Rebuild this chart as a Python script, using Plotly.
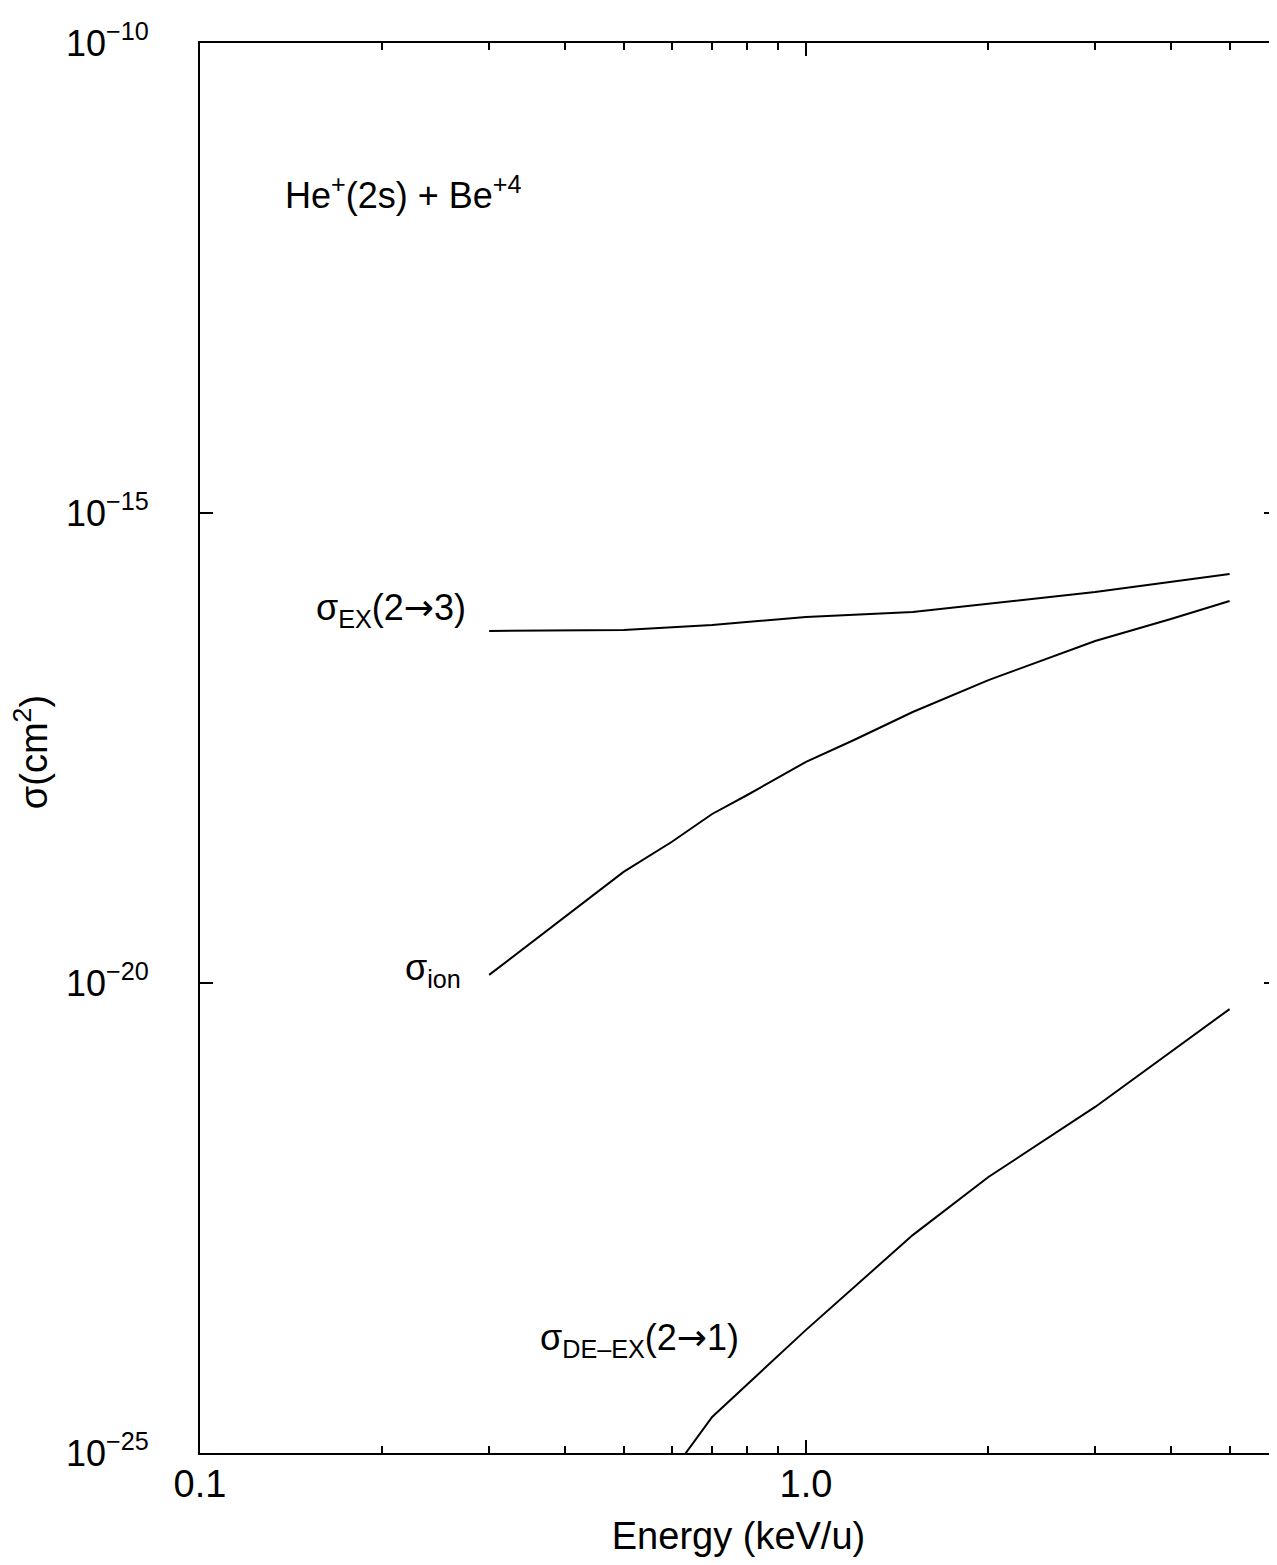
import plotly.graph_objects as go

# Energy (keV/u)
energy_ex = [0.3, 0.5, 0.7, 1.0, 1.5, 2.0, 3.0, 5.0]
sigma_ex = [5.56e-17, 5.69e-17, 6.45e-17, 7.83e-17, 8.85e-17, 1.08e-16, 1.44e-16, 2.24e-16]

energy_ion = [0.3, 0.4, 0.5, 0.6, 0.7, 0.8, 1.0, 1.2, 1.5, 2.0, 3.0, 4.0, 5.0]
sigma_ion = [1.22e-20, 5.04e-20, 1.52e-19, 3.16e-19, 6.28e-19, 1.0e-18, 2.25e-18,
             3.85e-18, 7.64e-18, 1.67e-17, 4.35e-17, 7.45e-17, 1.16e-16]

energy_deex = [0.6, 0.7, 1.0, 1.5, 2.0, 3.0, 5.0]
sigma_deex = [6.2e-26, 2.42e-25, 2.04e-24, 2.08e-23, 8.63e-23, 4.8e-22, 5.28e-21]

x_tickvals = [0.1, 1.0]
x_ticktext = ["0.1", "1.0"]
x_minor = [0.2, 0.3, 0.4, 0.5, 0.6, 0.7, 0.8, 0.9, 2, 3, 4, 5]
y_tickvals = [1e-25, 1e-20, 1e-15, 1e-10]
y_ticktext = ["10<sup>\u221225</sup>", "10<sup>\u221220</sup>",
              "10<sup>\u221215</sup>", "10<sup>\u221210</sup>"]

FONT = "Liberation Sans, Arial, Helvetica, sans-serif"
ARROW = "<span style=\"font-family:'DejaVu Sans'\">\u2192</span>"
line = dict(color="black", width=2)

fig = go.Figure()
for xs, ys in [(energy_ex, sigma_ex), (energy_ion, sigma_ion), (energy_deex, sigma_deex)]:
    fig.add_trace(go.Scatter(x=xs, y=ys, mode="lines", line=line,
                             showlegend=False, hoverinfo="skip"))
fig.add_trace(go.Scatter(x=[1.0], y=[1e-15], yaxis="y2", mode="markers",
                         marker=dict(opacity=0), showlegend=False, hoverinfo="skip"))

fig.update_layout(
    width=1269, height=1549,
    margin=dict(l=192, r=0, t=35, b=104),
    paper_bgcolor="white", plot_bgcolor="white",
    font=dict(family=FONT, size=38, color="black"),
    xaxis=dict(
        type="log", range=[-1, 0.7772],
        tickmode="array", tickvals=x_tickvals, ticktext=x_ticktext,
        ticks="inside", ticklen=13, tickwidth=2, tickcolor="black",
        showline=True, linecolor="black", linewidth=2, mirror="ticks",
        showgrid=False, zeroline=False, ticklabelstandoff=-4,
        minor=dict(tickmode="array", tickvals=x_minor, ticks="inside",
                   ticklen=7, tickwidth=2, tickcolor="black", showgrid=False),
        title=dict(text="Energy (keV/u)", standoff=22, font=dict(size=38)),
        tickfont=dict(size=38),
    ),
    yaxis=dict(
        type="log", range=[-25, -10],
        tickmode="array", tickvals=y_tickvals, ticktext=y_ticktext,
        ticks="inside", ticklen=13, tickwidth=2, tickcolor="black",
        showline=True, linecolor="black", linewidth=2,
        showgrid=False, zeroline=False, ticklabelstandoff=42,
        tickfont=dict(size=36),
    ),
    yaxis2=dict(
        type="log", range=[-25, -10], overlaying="y", side="right",
        tickmode="array", tickvals=y_tickvals, showticklabels=False,
        ticks="inside", ticklen=13, tickwidth=2, tickcolor="black",
        showline=False, showgrid=False, zeroline=False,
    ),
)

# y-axis title
fig.add_annotation(x=-0.157, y=0.497, xref="paper", yref="paper", xanchor="center",
                   yanchor="middle", textangle=-90, showarrow=False,
                   text="\u03c3(cm<sup>2</sup>)", font=dict(family=FONT, size=38, color="black"))

ann_font = dict(family=FONT, size=36, color="black")
fig.add_annotation(x=-0.863, y=-11.6, xref="x", yref="y", xanchor="left", yanchor="middle",
                   text="He<sup>+</sup>(2s) + Be<sup>+4</sup>", showarrow=False, font=ann_font)
fig.add_annotation(x=-0.558, y=-16.03, xref="x", yref="y", xanchor="right", yanchor="middle",
                   text="\u03c3<sub>EX</sub>(2" + ARROW + "3)", showarrow=False, font=ann_font)
fig.add_annotation(x=-0.566, y=-19.86, xref="x", yref="y", xanchor="right", yanchor="middle",
                   text="\u03c3<sub>ion</sub>", showarrow=False, font=ann_font)
fig.add_annotation(x=-0.442, y=-23.8, xref="x", yref="y", xanchor="left", yanchor="middle",
                   text="\u03c3<sub>DE\u2013EX</sub>(2" + ARROW + "1)", showarrow=False, font=ann_font)

fig.write_html("out.html")
